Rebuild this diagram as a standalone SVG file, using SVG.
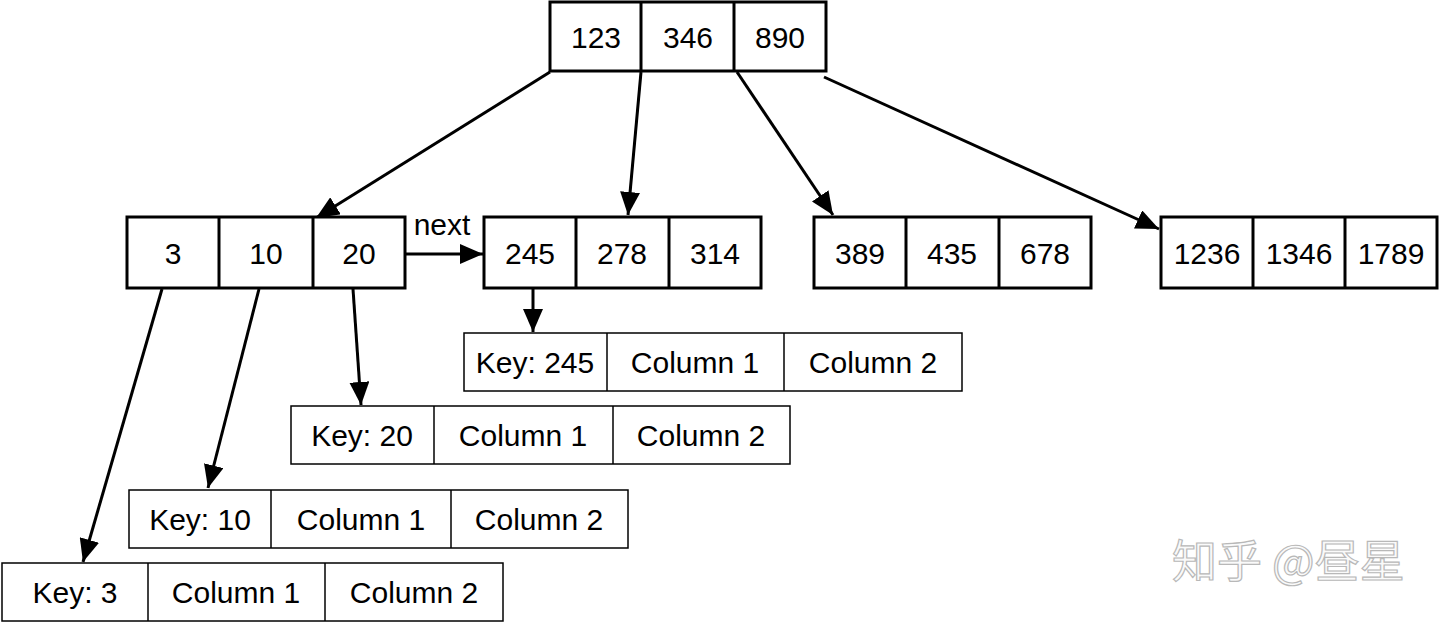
<svg xmlns="http://www.w3.org/2000/svg" width="1440" height="624" viewBox="0 0 1440 624">
<style>
.node{fill:#fff;stroke:#000;stroke-width:3}
.div{stroke:#000;stroke-width:3}
.rec{fill:#fff;stroke:#000;stroke-width:1.5}
.rdiv{stroke:#000;stroke-width:1.5}
.t{font-family:"Liberation Sans",Arial,sans-serif;font-size:30px;fill:#000;text-anchor:middle}
.e{stroke:#000;stroke-width:3;fill:none}
.wm{font-family:"Noto Sans CJK SC",sans-serif;font-size:45px;fill:#fafafa;stroke:#b8b8b8;stroke-width:1.2}
</style>
<defs>
<marker id="ah" markerUnits="userSpaceOnUse" markerWidth="24" markerHeight="20" refX="23" refY="10" orient="auto">
<path d="M0,0 L23,10 L0,20 z" fill="#000"/>
</marker>
</defs>
<rect width="1440" height="624" fill="#fff"/>

<g id="edges">
<line class="e" x1="550" y1="72" x2="316" y2="218" marker-end="url(#ah)"/>
<line class="e" x1="641" y1="72" x2="628" y2="215" marker-end="url(#ah)"/>
<line class="e" x1="737" y1="72" x2="833" y2="215" marker-end="url(#ah)"/>
<line class="e" x1="824" y1="77" x2="1159" y2="229" marker-end="url(#ah)"/>
<line class="e" x1="406" y1="254" x2="483" y2="254" marker-end="url(#ah)"/>
<text class="t" x="442" y="235">next</text>
<line class="e" x1="533" y1="289" x2="533" y2="332" marker-end="url(#ah)"/>
<line class="e" x1="162" y1="289" x2="83" y2="562" marker-end="url(#ah)"/>
<line class="e" x1="259" y1="289" x2="208" y2="488" marker-end="url(#ah)"/>
<line class="e" x1="353" y1="289" x2="361" y2="405" marker-end="url(#ah)"/>
</g>

<g id="root">
<rect class="node" x="550" y="2" width="276" height="69"/>
<line class="div" x1="641" y1="2" x2="641" y2="71"/>
<line class="div" x1="734" y1="2" x2="734" y2="71"/>
<text class="t" x="596" y="48">123</text>
<text class="t" x="688" y="48">346</text>
<text class="t" x="780" y="48">890</text>
</g>

<g id="leaf1">
<rect class="node" x="127" y="217" width="278" height="71"/>
<line class="div" x1="219" y1="217" x2="219" y2="288"/>
<line class="div" x1="313" y1="217" x2="313" y2="288"/>
<text class="t" x="173" y="264">3</text>
<text class="t" x="266" y="264">10</text>
<text class="t" x="359" y="264">20</text>
</g>

<g id="leaf2">
<rect class="node" x="484" y="217" width="277" height="71"/>
<line class="div" x1="576" y1="217" x2="576" y2="288"/>
<line class="div" x1="669" y1="217" x2="669" y2="288"/>
<text class="t" x="530" y="264">245</text>
<text class="t" x="622" y="264">278</text>
<text class="t" x="715" y="264">314</text>
</g>

<g id="leaf3">
<rect class="node" x="814" y="217" width="277" height="71"/>
<line class="div" x1="906" y1="217" x2="906" y2="288"/>
<line class="div" x1="999" y1="217" x2="999" y2="288"/>
<text class="t" x="860" y="264">389</text>
<text class="t" x="952" y="264">435</text>
<text class="t" x="1045" y="264">678</text>
</g>

<g id="leaf4">
<rect class="node" x="1161" y="217" width="276" height="71"/>
<line class="div" x1="1253" y1="217" x2="1253" y2="288"/>
<line class="div" x1="1345" y1="217" x2="1345" y2="288"/>
<text class="t" x="1207" y="264">1236</text>
<text class="t" x="1299" y="264">1346</text>
<text class="t" x="1391" y="264">1789</text>
</g>

<g id="rec245">
<rect class="rec" x="464" y="333" width="498" height="58"/>
<line class="rdiv" x1="607" y1="333" x2="607" y2="391"/>
<line class="rdiv" x1="784" y1="333" x2="784" y2="391"/>
<text class="t" x="535" y="373">Key: 245</text>
<text class="t" x="695" y="373">Column 1</text>
<text class="t" x="873" y="373">Column 2</text>
</g>

<g id="rec20">
<rect class="rec" x="291" y="406" width="499" height="58"/>
<line class="rdiv" x1="434" y1="406" x2="434" y2="464"/>
<line class="rdiv" x1="613" y1="406" x2="613" y2="464"/>
<text class="t" x="362" y="446">Key: 20</text>
<text class="t" x="523" y="446">Column 1</text>
<text class="t" x="701" y="446">Column 2</text>
</g>

<g id="rec10">
<rect class="rec" x="129" y="490" width="499" height="58"/>
<line class="rdiv" x1="271" y1="490" x2="271" y2="548"/>
<line class="rdiv" x1="451" y1="490" x2="451" y2="548"/>
<text class="t" x="200" y="530">Key: 10</text>
<text class="t" x="361" y="530">Column 1</text>
<text class="t" x="539" y="530">Column 2</text>
</g>

<g id="rec3">
<rect class="rec" x="2" y="563" width="501" height="58"/>
<line class="rdiv" x1="148" y1="563" x2="148" y2="621"/>
<line class="rdiv" x1="325" y1="563" x2="325" y2="621"/>
<text class="t" x="75" y="603">Key: 3</text>
<text class="t" x="236" y="603">Column 1</text>
<text class="t" x="414" y="603">Column 2</text>
</g>

<text class="wm" x="1172" y="578">知乎 @昼星</text>
</svg>
